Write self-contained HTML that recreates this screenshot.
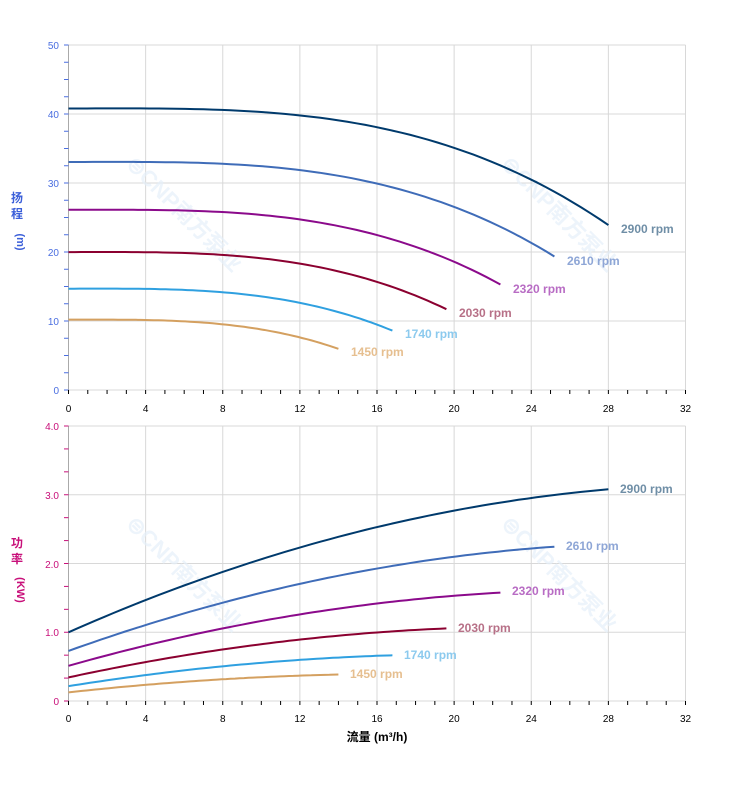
<!DOCTYPE html>
<html><head><meta charset="utf-8"><style>
body{margin:0;background:#fff;}
svg text{font-family:"Liberation Sans","Noto Sans CJK SC",sans-serif;}
</style></head><body>
<svg id="s" width="752" height="797" xmlns="http://www.w3.org/2000/svg">
<rect width="752" height="797" fill="#fff"/>
<g id="grid" stroke="#d8d8d8" stroke-width="1" fill="none"></g>
<g font-weight="bold" fill="#e6f0f9" opacity="0.7" font-size="22">
<text x="125" y="165" transform="rotate(45 125 165)">⊜CNP南方泵业</text>
<text x="500" y="165" transform="rotate(45 500 165)">⊜CNP南方泵业</text>
<text x="125" y="525" transform="rotate(45 125 525)">⊜CNP南方泵业</text>
<text x="500" y="525" transform="rotate(45 500 525)">⊜CNP南方泵业</text>
</g>
<g id="axes"></g>
<g id="curves" fill="none" stroke-width="2"></g>
<g font-size="12" font-weight="bold">
<text x="621" y="233" fill="#6f8ea6">2900 rpm</text>
<text x="567" y="265" fill="#8ea6d6">2610 rpm</text>
<text x="513" y="293" fill="#b86cc4">2320 rpm</text>
<text x="459" y="317" fill="#b77087">2030 rpm</text>
<text x="405" y="338" fill="#8ccaee">1740 rpm</text>
<text x="351" y="356" fill="#e6bf90">1450 rpm</text>
<text x="620" y="493" fill="#6f8ea6">2900 rpm</text>
<text x="566" y="550" fill="#8ea6d6">2610 rpm</text>
<text x="512" y="595" fill="#b86cc4">2320 rpm</text>
<text x="458" y="632" fill="#b77087">2030 rpm</text>
<text x="404" y="659" fill="#8ccaee">1740 rpm</text>
<text x="350" y="678" fill="#e6bf90">1450 rpm</text>
</g>
<g font-size="12" font-weight="bold" fill="#3b5fd9">
<text x="17" y="202" text-anchor="middle">扬</text>
<text x="17" y="218" text-anchor="middle">程</text>
<text x="17" y="242" text-anchor="middle" transform="rotate(90 17 242)" font-size="11">(m)</text>
</g>
<g font-size="12" font-weight="bold" fill="#c8107a">
<text x="17" y="547" text-anchor="middle">功</text>
<text x="17" y="563" text-anchor="middle">率</text>
<text x="17" y="590" text-anchor="middle" transform="rotate(90 17 590)" font-size="11">(KW)</text>
</g>
<text x="377" y="741" font-size="12" font-weight="bold" text-anchor="middle" fill="#000">流量 (m³/h)</text>
<g font-size="10" fill="#000" text-anchor="middle">
<text x="68.5" y="412">0</text><text x="145.6" y="412">4</text><text x="222.8" y="412">8</text><text x="299.9" y="412">12</text><text x="377" y="412">16</text><text x="454.1" y="412">20</text><text x="531.3" y="412">24</text><text x="608.4" y="412">28</text><text x="685.5" y="412">32</text>
<text x="68.5" y="722">0</text><text x="145.6" y="722">4</text><text x="222.8" y="722">8</text><text x="299.9" y="722">12</text><text x="377" y="722">16</text><text x="454.1" y="722">20</text><text x="531.3" y="722">24</text><text x="608.4" y="722">28</text><text x="685.5" y="722">32</text>
</g>
<g font-size="10" fill="#4a6ee0" text-anchor="end">
<text x="59" y="49">50</text><text x="59" y="118">40</text><text x="59" y="187">30</text><text x="59" y="256">20</text><text x="59" y="325">10</text><text x="59" y="394">0</text>
</g>
<g font-size="10" fill="#c8107a" text-anchor="end">
<text x="59" y="430">4.0</text><text x="59" y="499">3.0</text><text x="59" y="568">2.0</text><text x="59" y="636">1.0</text><text x="59" y="705">0</text>
</g>
</svg>
<script>
var NS="http://www.w3.org/2000/svg";
function el(p,t,a){var e=document.createElementNS(NS,t);for(var k in a)e.setAttribute(k,a[k]);p.appendChild(e);return e;}
var X0=68.5,XS=617/32;
var g=document.getElementById('grid'),ax=document.getElementById('axes'),cv=document.getElementById('curves');
function X(q){return X0+q*XS;}
for(var i=1;i<=8;i++){el(g,'line',{x1:X(i*4),y1:45,x2:X(i*4),y2:390});el(g,'line',{x1:X(i*4),y1:426,x2:X(i*4),y2:701});}
for(var i=0;i<=5;i++){var y=45+i*69;el(g,'line',{x1:68.5,y1:y,x2:685.5,y2:y});}
for(var i=0;i<=4;i++){var y=426+i*68.75;el(g,'line',{x1:68.5,y1:y,x2:685.5,y2:y});}
el(ax,'line',{x1:68.5,y1:45,x2:68.5,y2:390,stroke:'#aaa'});
el(ax,'line',{x1:68.5,y1:426,x2:68.5,y2:701,stroke:'#aaa'});
for(var i=0;i<=20;i++){var y=45+i*17.25;el(ax,'line',{x1:64,y1:y,x2:68.5,y2:y,stroke:'#4a6ee0'});}
for(var i=0;i<=12;i++){var y=426+i*275/12;el(ax,'line',{x1:64,y1:y,x2:68.5,y2:y,stroke:'#c8107a'});}
for(var i=0;i<=32;i++){el(ax,'line',{x1:X(i),y1:390,x2:X(i),y2:394,stroke:'#000'});el(ax,'line',{x1:X(i),y1:701,x2:X(i),y2:705,stroke:'#000'});}
var sp=[[2900,'#003a6c'],[2610,'#3f6cb8'],[2320,'#8b0a8b'],[2030,'#8b0030'],[1740,'#2fa0e0'],[1450,'#d4a060']];
function H(q){return 40.8+0.004*q*q-0.000913*q*q*q;}
function P(q){return 1.0+0.124*q-0.001777*q*q;}
sp.forEach(function(s){var r=s[0]/2900,qe=28*r,d1='',d2='';
for(var j=0;j<=60;j++){var q=qe*j/60,h=r*r*H(q/r),p=r*r*r*P(q/r);
d1+=(j?'L':'M')+X(q).toFixed(1)+','+(390-h*6.9).toFixed(1);
d2+=(j?'L':'M')+X(q).toFixed(1)+','+(701-p*68.75).toFixed(1);}
el(cv,'path',{d:d1,stroke:s[1]});el(cv,'path',{d:d2,stroke:s[1]});});
</script>
</body></html>
